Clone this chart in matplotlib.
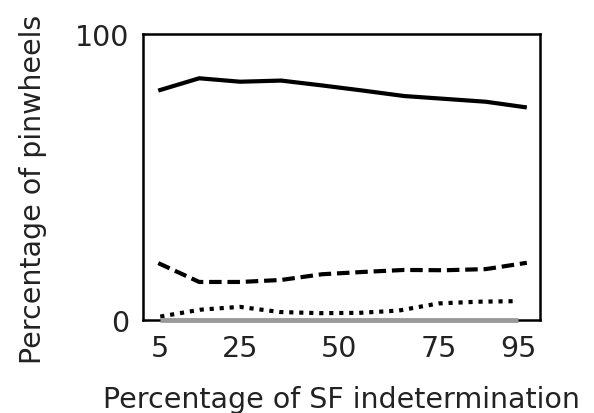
import matplotlib
matplotlib.use("Agg")
import matplotlib.pyplot as plt

# Data
x_main = [4.5, 14.8, 25.1, 35.4, 45.7, 56.0, 66.3, 76.6, 86.9, 97.2]
solid_vals = [80.2, 84.5, 83.3, 83.7, 82.0, 80.2, 78.3, 77.3, 76.3, 74.3]
dashed_vals = [19.9, 13.3, 13.3, 14.0, 16.0, 16.8, 17.5, 17.4, 17.8, 20.0]
x_dot = [5, 15, 25, 35, 45, 55, 65, 75, 85, 95]
dotted_vals = [1.2, 3.6, 4.6, 2.8, 2.4, 2.5, 3.3, 5.8, 6.4, 6.6]
gray_x = [5, 95]
gray_vals = [0, 0]
xticks = [5, 25, 50, 75, 95]
yticks = [0, 100]

fig = plt.figure(figsize=(5.94, 4.14), dpi=100)
ax = fig.add_axes([0.241, 0.2246, 0.668, 0.691])

ax.plot(x_main, solid_vals, color="black", lw=3.0, solid_capstyle="butt", solid_joinstyle="miter")
ax.plot(x_main, dashed_vals, color="black", lw=3.0, linestyle=(0, (3, 1.4)))
ax.plot(x_dot, dotted_vals, color="black", lw=3.0, linestyle=(0, (1, 1.4)))
ax.plot(gray_x, gray_vals, color="#9a9a9a", lw=3.5, solid_capstyle="butt", clip_on=False, zorder=5)

ax.set_xlim(0.7, 100.5)
ax.set_ylim(0, 100)
ax.set_xticks(xticks)
ax.set_yticks(yticks)
ax.tick_params(length=0, labelsize=20.5, pad=10)
for s in ax.spines.values():
    s.set_linewidth(1.8)
ax.set_xlabel("Percentage of SF indetermination", fontsize=20.5, color="#222222")
ax.set_ylabel("Percentage of pinwheels", fontsize=20.5, color="#222222")
ax.xaxis.set_label_coords(0.5, -0.226)
ax.yaxis.set_label_coords(-0.243, 0.46)
for t in ax.get_xticklabels() + ax.get_yticklabels():
    t.set_color("#222222")

fig.savefig("out.png", dpi=100)
